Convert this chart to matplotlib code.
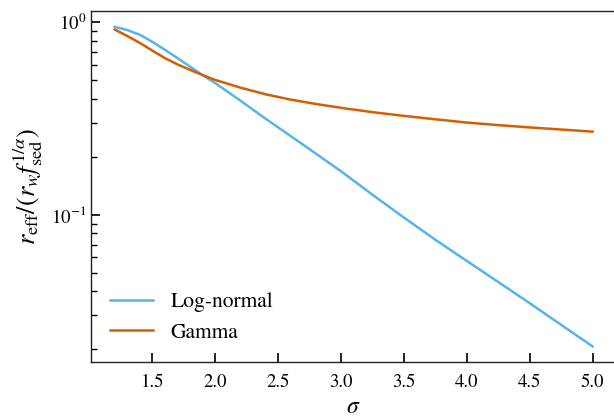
import numpy as np
import matplotlib
matplotlib.use('Agg')
import matplotlib.pyplot as plt

# values (sigma vs normalised effective radius)
sigma_lognorm = [1.2, 1.3, 1.4, 1.5, 1.6, 1.7, 1.8, 1.9, 2.0, 2.2, 2.4, 2.6, 2.8,
                 3.0, 3.25, 3.5, 3.75, 4.0, 4.25, 4.5, 4.75, 5.0]
reff_lognorm = [0.946, 0.910, 0.860, 0.790, 0.718, 0.650, 0.587, 0.530, 0.482,
                0.391, 0.315, 0.256, 0.2075, 0.168, 0.127, 0.0966, 0.0741,
                0.0575, 0.0447, 0.0347, 0.0268, 0.0207]

sigma_gamma = [1.2, 1.3, 1.4, 1.5, 1.6, 1.7, 1.8, 1.9, 2.0, 2.2, 2.4, 2.6, 2.8,
               3.0, 3.25, 3.5, 3.75, 4.0, 4.25, 4.5, 4.75, 5.0]
reff_gamma = [0.916, 0.847, 0.780, 0.711, 0.650, 0.603, 0.565, 0.531, 0.501,
              0.457, 0.422, 0.396, 0.376, 0.359, 0.341, 0.326, 0.313, 0.301,
              0.292, 0.284, 0.277, 0.270]

plt.rcParams['font.family'] = 'serif'
plt.rcParams['font.serif'] = ['STIXGeneral', 'DejaVu Serif']
plt.rcParams['mathtext.fontset'] = 'stix'

fig = plt.figure(figsize=(6.14, 4.17), dpi=100)
ax = fig.add_axes([0.148, 0.131, 0.856, 0.843])

ax.plot(sigma_lognorm, reff_lognorm, color='#56B4E9', lw=1.8, label='Log-normal')
ax.plot(sigma_gamma, reff_gamma, color='#D55E00', lw=1.8, label='Gamma')
ax.set_yscale('log')

ax.set_xticks([1.5, 2.0, 2.5, 3.0, 3.5, 4.0, 4.5, 5.0])
ax.tick_params(which='major', direction='in', length=6.5, width=1.2, labelsize=13.5)
ax.tick_params(which='minor', direction='in', length=4.2, width=1.0)
ax.tick_params(axis='x', which='major', pad=8)
for s in ax.spines.values():
    s.set_linewidth(1.0)
    s.set_color('#222222')

ax.set_xlabel(r'$\sigma$', fontsize=17, labelpad=4)
ax.set_ylabel(r'$r_{\rm eff}/(r_w f_{\rm sed}^{1/\alpha})$', fontsize=19, labelpad=4)

ax.legend(loc='lower left', frameon=False, fontsize=15.5, handlelength=2.0,
          handletextpad=0.8, borderaxespad=0.5)

fig.savefig('out.png', dpi=100)
